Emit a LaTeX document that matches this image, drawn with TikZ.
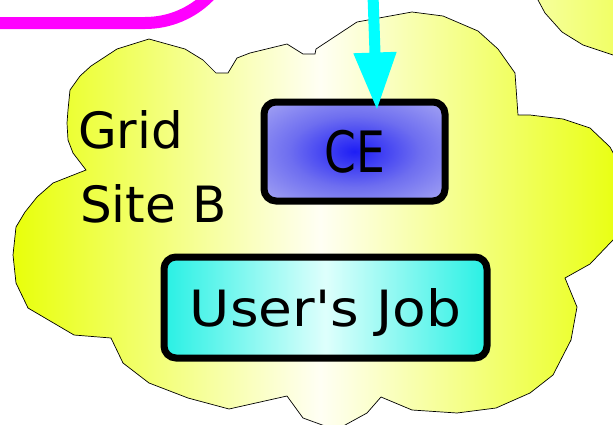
\documentclass[tikz,border=0pt]{standalone}
\usepackage{fontspec}
\setmainfont{DejaVu Sans}[Ligatures=TeXOff]
\usetikzlibrary{arrows.meta}
\definecolor{cloudyellow}{RGB}{232,255,10}
\definecolor{cloudwhite}{RGB}{255,255,244}
\definecolor{jobcyan}{RGB}{40,240,228}
\definecolor{jobpale}{RGB}{222,255,252}
\definecolor{ceblue}{RGB}{30,30,245}
\definecolor{cemid}{RGB}{110,110,240}
\definecolor{celight}{RGB}{210,210,246}
\definecolor{linkpink}{RGB}{255,0,255}
\definecolor{feedcyan}{RGB}{0,255,255}
\pgfdeclareradialshading{ceshade}{\pgfpoint{0bp}{0bp}}{color(0bp)=(ceblue); color(18bp)=(cemid); color(50bp)=(celight); color(100bp)=(celight)}

\begin{document}
\begin{tikzpicture}[x=1pt,y=-1pt,
	sitecloud/.style={draw=black, line width=0.7pt, left color=cloudyellow, right color=cloudyellow, middle color=cloudwhite},
	nextcloud/.style={draw=black, line width=0.7pt, left color=cloudyellow!40!white, right color=cloudyellow!70!white},
	jobbox/.style={draw=black, line width=7pt, rounded corners=12pt, inner sep=0pt},
	sitetext/.style={inner sep=0pt, font=\fontsize{50}{60}\selectfont}]
	\useasboundingbox (0,0) rectangle (613,424);
	\clip (0,0) rectangle (613,424);
	% clouds
	\path[sitecloud] (70,90) -- (80,76) -- (91,66) -- (117,49) -- (149,39) -- (185,49) -- (203,60) -- (216,73) -- (228,73) -- (237,58) -- (250,53) -- (287,44) -- (303,54) -- (315,54) -- (316,49) -- (357,22) -- (412,12) -- (443,16) -- (478,31) -- (498,49) -- (515,73) -- (518,115) -- (530,115) -- (563,119) -- (590,128) -- (610,147) -- (625,175) -- (628,215) -- (613,240) -- (590,264) -- (565,278) -- (577,307) -- (571,340) -- (553,375) -- (530,393) -- (496,408) -- (457,413) -- (412,410) -- (381,397) -- (367,413) -- (336,430) -- (303,418) -- (287,396) -- (229,409) -- (188,398) -- (149,383) -- (123,363) -- (111,338) -- (74,335) -- (28,308) -- (16,283) -- (13,255) -- (16,227) -- (25,212) -- (37,197) -- (53,183) -- (86,170) -- (73,153) -- (68,140) -- (67,123) -- (68,110) -- cycle;
	\path[nextcloud] (536,-5) -- (538,0) -- (545,13) -- (562,32) -- (583,45) -- (613,55) -- (640,62) -- (640,-5) -- cycle;
	\draw[linkpink, line width=12pt, rounded corners=90pt] (-10,23) -- (235,23) -- (235,-100);
	% nodes
	\node[jobbox, shading=ceshade, minimum width=181pt, minimum height=99pt, font=\fontsize{57}{60}\selectfont] (ce) at (354.5,151.5) {\scalebox{0.8}[1]{CE}};
	\node[jobbox, left color=jobcyan, right color=jobcyan, middle color=jobpale, minimum width=323pt, minimum height=101pt, text depth=0pt, font=\fontsize{50}{60}\selectfont] (job) at (325.5,307.5) {\scalebox{1.1}[1]{User's Job}};
	\node[sitetext, anchor=base west] (grid) at (78,148) {Grid};
	\node[sitetext, anchor=base west] (site) at (80,222) {Site B};
	% submission arrow
	\coordinate (feed) at (373,-5);
	\draw[feedcyan, line width=11pt, -{Triangle[length=58pt, width=40pt]}] (feed) -- ([xshift=22.5pt, yshift=-12pt]ce.north);
\end{tikzpicture}
\end{document}
